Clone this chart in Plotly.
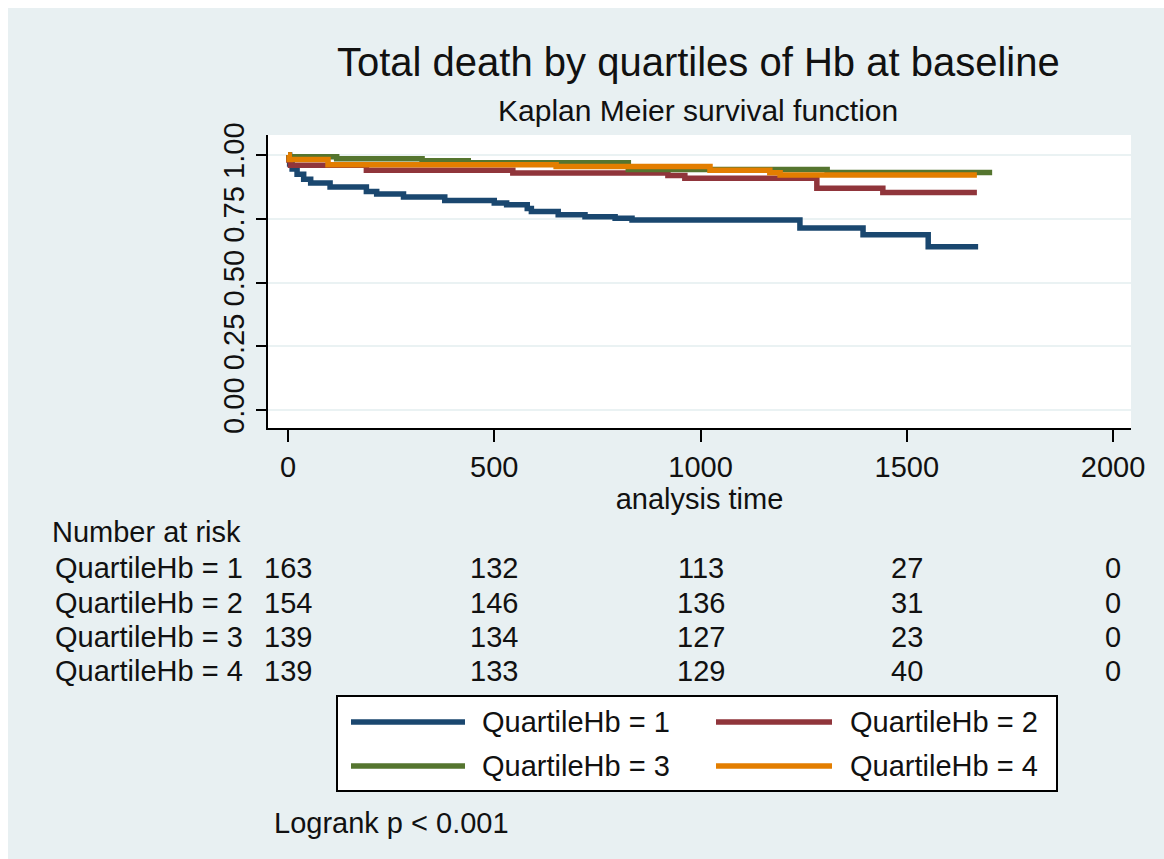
import plotly.graph_objects as go

# ---------------- data ----------------
group_names = ["QuartileHb = 1", "QuartileHb = 2", "QuartileHb = 3", "QuartileHb = 4"]
group_colors = ["#1A476F", "#90353B", "#55752F", "#E37E00"]

q1_time = [0, 4, 10, 22, 38, 55, 102, 190, 215, 280, 380, 500, 530, 580, 590, 655, 720, 793, 834, 1241, 1394, 1552, 1673]
q1_surv = [1.0, 0.965, 0.945, 0.925, 0.905, 0.89, 0.875, 0.857, 0.847, 0.835, 0.822, 0.812, 0.805, 0.79, 0.778, 0.766, 0.758, 0.752, 0.745, 0.714, 0.687, 0.64, 0.64]

q2_time = [0, 2, 6, 190, 545, 921, 962, 1282, 1442, 1670]
q2_surv = [1.0, 0.98, 0.96, 0.94, 0.929, 0.92, 0.909, 0.87, 0.853, 0.853]

q3_time = [0, 3, 118, 325, 437, 825, 1307, 1707]
q3_surv = [1.0, 0.993, 0.985, 0.978, 0.97, 0.943, 0.931, 0.931]

q4_time = [0, 3, 97, 650, 1023, 1168, 1193, 1670]
q4_surv = [1.0, 0.982, 0.962, 0.955, 0.94, 0.93, 0.922, 0.922]

risk_times = [0, 500, 1000, 1500, 2000]
risk_q1 = [163, 132, 113, 27, 0]
risk_q2 = [154, 146, 136, 31, 0]
risk_q3 = [139, 134, 127, 23, 0]
risk_q4 = [139, 133, 129, 40, 0]

x_ticks = [0, 500, 1000, 1500, 2000]
y_ticks = [0.0, 0.25, 0.5, 0.75, 1.0]

title_text = "Total death by quartiles of Hb at baseline"
subtitle_text = "Kaplan Meier survival function"
x_title = "analysis time"
risk_title = "Number at risk"
logrank_text = "Logrank p < 0.001"

# ---------------- layout geometry ----------------
FIG_W, FIG_H = 1156, 851
L, T, W, H = 260, 127, 863, 293
FONT = "Liberation Sans, Arial, sans-serif"
BG = "#E8F0F2"
TXT = "#111111"


def px(x):
    return (x - L) / W


def py(y):
    return (T + H - y) / H


times = [q1_time, q2_time, q3_time, q4_time]
survs = [q1_surv, q2_surv, q3_surv, q4_surv]
risks = [risk_q1, risk_q2, risk_q3, risk_q4]

fig = go.Figure()
for name, color, t, s in zip(group_names, group_colors, times, survs):
    fig.add_trace(go.Scatter(x=t, y=s, mode="lines", name=name,
                             line=dict(color=color, width=5.5, shape="hv"),
                             showlegend=False))

annotations = []
shapes = []

# titles
annotations.append(dict(text=title_text, x=px(690), y=py(54), xref="paper", yref="paper",
                        xanchor="center", yanchor="middle", showarrow=False,
                        font=dict(size=40, color=TXT, family=FONT)))
annotations.append(dict(text=subtitle_text, x=px(690), y=py(103), xref="paper", yref="paper",
                        xanchor="center", yanchor="middle", showarrow=False,
                        font=dict(size=30, color=TXT, family=FONT)))

# number at risk table
annotations.append(dict(text=risk_title, x=px(42), y=py(524), xref="paper", yref="paper",
                        xanchor="left", yanchor="middle", showarrow=False,
                        font=dict(size=29, color=TXT, family=FONT)))
row_y = [560, 595, 629, 663]
for name, vals, ry in zip(group_names, risks, row_y):
    annotations.append(dict(text=name, x=px(45), y=py(ry), xref="paper", yref="paper",
                            xanchor="left", yanchor="middle", showarrow=False,
                            font=dict(size=29, color=TXT, family=FONT)))
    for tv, v in zip(risk_times, vals):
        annotations.append(dict(text=str(v), x=tv, y=py(ry), xref="x", yref="paper",
                                xanchor="center", yanchor="middle", showarrow=False,
                                font=dict(size=29, color=TXT, family=FONT)))

# legend (manual, Stata style)
shapes.append(dict(type="rect", xref="paper", yref="paper",
                   x0=px(329), x1=px(1049), y0=py(688), y1=py(783),
                   fillcolor="white", line=dict(color="black", width=2), layer="above"))
leg_pos = [(343, 457, 472, 714), (708, 824, 840, 714), (343, 457, 472, 758), (708, 824, 840, 758)]
for name, color, (lx0, lx1, tx, ly) in zip(group_names, group_colors, leg_pos):
    shapes.append(dict(type="line", xref="paper", yref="paper",
                       x0=px(lx0), x1=px(lx1), y0=py(ly), y1=py(ly),
                       line=dict(color=color, width=5.5)))
    annotations.append(dict(text=name, x=px(tx), y=py(ly), xref="paper", yref="paper",
                            xanchor="left", yanchor="middle", showarrow=False,
                            font=dict(size=29, color=TXT, family=FONT)))

annotations.append(dict(text=logrank_text, x=px(264), y=py(815), xref="paper", yref="paper",
                        xanchor="left", yanchor="middle", showarrow=False,
                        font=dict(size=29, color=TXT, family=FONT)))

fig.update_layout(
    width=FIG_W, height=FIG_H,
    margin=dict(l=L, r=FIG_W - L - W, t=T, b=FIG_H - T - H, pad=0),
    paper_bgcolor=BG, plot_bgcolor="white",
    font=dict(family=FONT, size=29, color=TXT),
    annotations=annotations, shapes=shapes,
    showlegend=False,
)
fig.update_xaxes(range=[-48.5, 2043.6], tickvals=x_ticks, ticks="outside", ticklen=12,
                 tickwidth=2, tickcolor="black", showline=True, linecolor="black", linewidth=2,
                 showgrid=False, zeroline=False, tickfont=dict(size=29),
                 title=dict(text=x_title, font=dict(size=29), standoff=2))
fig.update_yaxes(range=[-0.0706, 1.0785], tickvals=y_ticks, tickformat=".2f", ticks="outside",
                 ticklen=10, tickwidth=2, tickcolor="black", showline=True, linecolor="black",
                 linewidth=2, showgrid=True, gridcolor="#EAF2F3", gridwidth=2, zeroline=False,
                 tickangle=-90, tickfont=dict(size=29))

fig.write_html("out.html",
               post_script="document.body.style.margin='8px 0 0 8px';"
                           "document.body.style.overflow='hidden';")
